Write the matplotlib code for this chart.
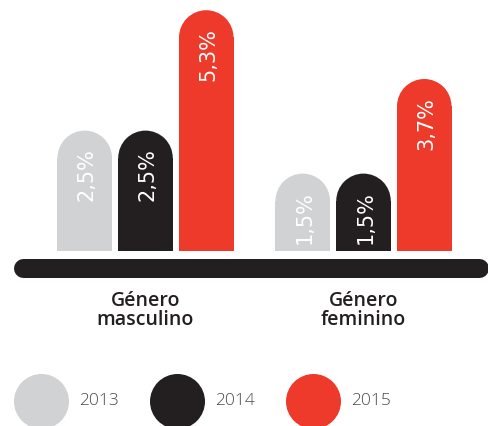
import matplotlib
matplotlib.use("Agg")
import matplotlib.pyplot as plt
from matplotlib.patches import Rectangle, Ellipse

# Data
groups = ["Género\nmasculino", "Género\nfeminino"]
years = ["2013", "2014", "2015"]
values = {
    "2013": [2.5, 1.5],
    "2014": [2.5, 1.5],
    "2015": [5.3, 3.7],
}
value_labels = {
    "2013": ["2,5%", "1,5%"],
    "2014": ["2,5%", "1,5%"],
    "2015": ["5,3%", "3,7%"],
}
colors = {"2013": "#d1d2d4", "2014": "#231f20", "2015": "#ee3a2b"}

W, H, DPI = 488, 427, 100
fig = plt.figure(figsize=(W / DPI, H / DPI), dpi=DPI)
fig.patch.set_facecolor("white")
ax = fig.add_axes([0, 0, 1, 1])
ax.set_axis_off()

# Axis scales (pixels per data unit)
px_x = 218.0          # distance between group centres
px_y = 43.0           # pixels per percentage point
base = -0.3           # bars start slightly below zero
x_left = -145.5 / px_x
ax.set_xlim(x_left, x_left + W / px_x)
y_top = base + 252 / px_y
ax.set_ylim(y_top - H / px_y, y_top)

bar_w = 0.25
step = 0.2787
r_y = (bar_w * px_x / 2) / px_y   # cap radius expressed in y units

for gi, g in enumerate(groups):
    for yi, yr in enumerate(years):
        v = values[yr][gi]
        x = gi + (yi - 1) * step
        c = colors[yr]
        ax.add_patch(Rectangle((x - bar_w / 2, base), bar_w, v - r_y - base,
                               facecolor=c, edgecolor="none"))
        ax.add_patch(Ellipse((x, v - r_y), bar_w, 2 * r_y,
                             facecolor=c, edgecolor="none"))
        ax.text(x + 2 / px_x, v - 17 / px_y, value_labels[yr][gi], rotation=90,
                ha="center", va="top", color="white", fontsize=15,
                family="DejaVu Sans")
    # category label
    ax.text(gi, base - (291 - 252) / px_y, g, ha="center", va="top",
            fontsize=14, fontweight="semibold", color="#231f20",
            family="Open Sans", linespacing=0.92)

# Baseline
y_line = base - (268.5 - 252) / px_y
ax.plot([(22.5 - 145.5) / px_x, (478.5 - 145.5) / px_x], [y_line, y_line],
        color="#231f20", linewidth=19 * 72 / DPI, solid_capstyle="round")

# Legend
leg_y = 1 - 401.5 / H
leg_x = [40.5 / W, 177 / W, 312.5 / W]
for lx, yr in zip(leg_x, years):
    ax.scatter([lx], [leg_y], s=(55 * 72 / DPI) ** 2, color=colors[yr],
               linewidths=0, transform=ax.transAxes, clip_on=False)
    ax.text(lx + 38.5 / W, leg_y, yr, transform=ax.transAxes, ha="left",
            va="center", fontsize=12.5, fontweight="light", color="#4a4a4a",
            family="Open Sans")

fig.savefig("out.png", dpi=DPI, facecolor="white")
